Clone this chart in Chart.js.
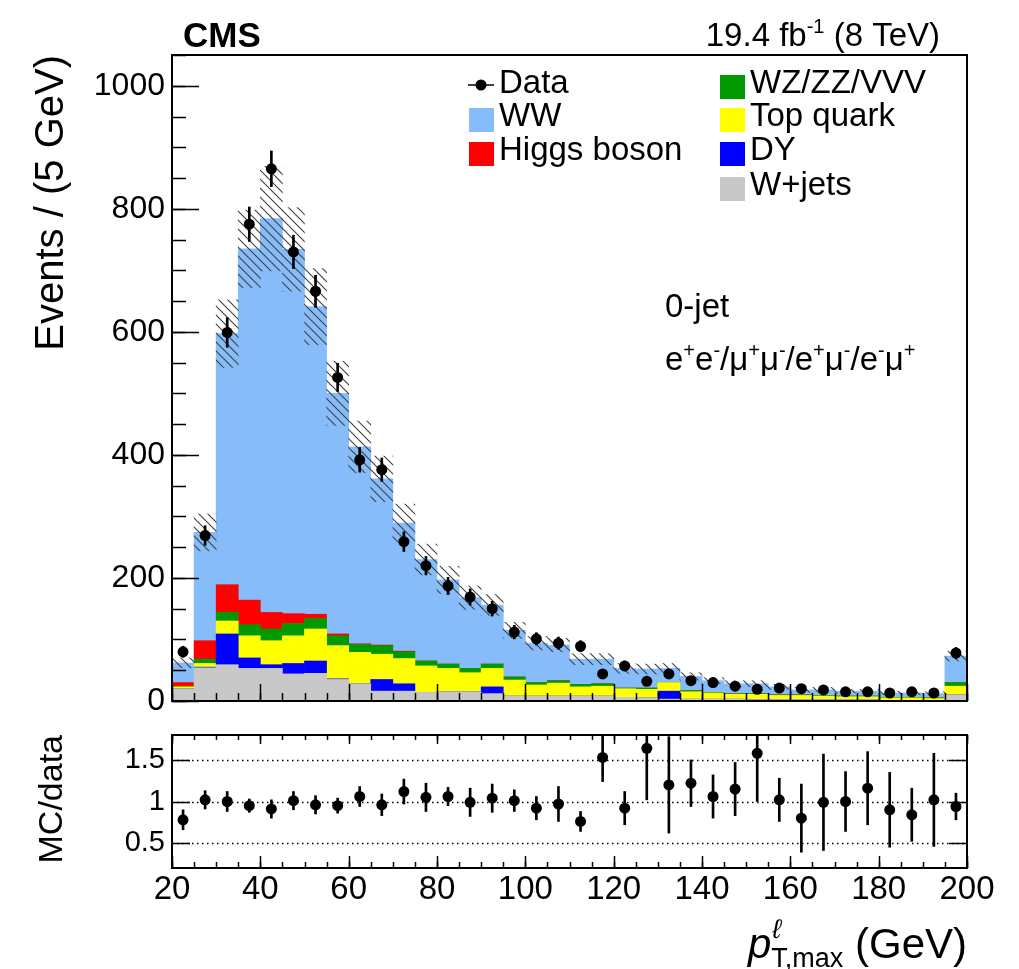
<!DOCTYPE html>
<html>
<head>
<meta charset="utf-8">
<script src="https://cdn.jsdelivr.net/npm/chart.js@4.4.0/dist/chart.umd.min.js"></script>
<style>
  html, body { margin: 0; padding: 0; background: #fff; }
  #wrap { position: relative; width: 1019px; height: 969px; }
  #main { position: absolute; left: 0; top: 0; }
  #ratio { position: absolute; left: 0; top: 712px; }
</style>
</head>
<body>
<div id="wrap">
  <canvas id="main" width="1019" height="712"></canvas>
  <canvas id="ratio" width="1019" height="257"></canvas>
</div>
<script>
const FONT = "'Liberation Sans', Arial, sans-serif";

// bin centres (5 GeV bins from 20 to 200)
const binCenters = [22.5, 27.5, 32.5, 37.5, 42.5, 47.5, 52.5, 57.5, 62.5, 67.5, 72.5, 77.5,
  82.5, 87.5, 92.5, 97.5, 102.5, 107.5, 112.5, 117.5, 122.5, 127.5, 132.5, 137.5,
  142.5, 147.5, 152.5, 157.5, 162.5, 167.5, 172.5, 177.5, 182.5, 187.5, 192.5, 197.5];

// observed events and stat. errors
const dataEvents = [80, 269, 599, 775, 865, 730, 666, 526, 392, 376, 259, 220, 187, 169, 150, 112, 101, 94,
  89, 44, 57, 32, 44, 33, 30, 24, 19, 21, 20, 18, 15, 15, 13, 15, 13, 78];
const dataErr = [9, 16, 24, 28, 29, 27, 26, 23, 20, 19, 16, 15, 14, 13, 12, 11, 10, 10,
  9, 7, 8, 6, 7, 6, 5, 5, 4, 5, 4, 4, 4, 4, 4, 4, 4, 9];

// simulated processes (stacked bottom -> top)
const wjets = [20, 54, 59, 53, 53, 44, 45, 35, 28, 16, 16, 14, 15, 15, 12, 8, 8, 8,
  8, 8, 6, 5, 3, 3, 3, 3, 2, 2, 2, 2, 2, 2, 1, 1, 1, 10];
const dy = [0, 1, 50, 17, 6, 17, 20, 1, 0, 19, 12, 0, 0, 0, 11, 0, 0, 0,
  0, 0, 0, 0, 13, 0, 0, 0, 0, 0, 0, 0, 0, 0, 0, 0, 0, 0];
const topQuark = [3, 6, 21, 36, 39, 45, 52, 54, 51, 41, 41, 43, 38, 31, 30, 26, 18, 21,
  15, 16, 14, 14, 14, 12, 10, 8, 9, 7, 7, 6, 5, 5, 4, 4, 3, 14];
const vvv = [1, 7, 14, 18, 19, 20, 17, 16, 13, 14, 11, 8, 7, 7, 7, 5, 4, 4,
  4, 4, 1, 2, 0, 2, 1, 1, 1, 1, 1, 1, 1, 1, 1, 1, 1, 6];
const higgs = [6, 30, 45, 40, 27, 16, 7, 3, 1, 1, 1, 0, 0, 0, 0, 0, 0, 0,
  0, 0, 0, 0, 0, 0, 0, 0, 0, 0, 0, 0, 0, 0, 0, 0, 0, 0];
const ww = [32, 176, 408, 571, 640, 592, 500, 391, 320, 270, 208, 165, 137, 115, 96, 76, 64, 58,
  41, 40, 32, 31, 23, 23, 19, 16, 16, 13, 8, 9, 8, 8, 7, 7, 7, 43];
// total background uncertainty (hatched band, +-)
const mcUnc = [8, 30, 55, 63, 85, 68, 62, 52, 42, 37, 31, 25, 22, 19, 17, 13, 11, 11,
  9, 9, 8, 8, 8, 6, 5, 5, 5, 4, 4, 4, 3, 3, 3, 3, 3, 8];

// ratio panel
const ratioVals = [0.78, 1.02, 1.00, 0.95, 0.91, 1.01, 0.96, 0.95, 1.06, 0.96, 1.12, 1.05,
  1.06, 0.99, 1.04, 1.01, 0.92, 0.97, 0.76, 1.53, 0.92, 1.64, 1.20, 1.22,
  1.06, 1.15, 1.58, 1.02, 0.80, 0.99, 1.00, 1.16, 0.90, 0.84, 1.02, 0.94];
const ratioErr = [0.12, 0.11, 0.12, 0.08, 0.11, 0.11, 0.11, 0.09, 0.12, 0.13, 0.15, 0.17,
  0.11, 0.17, 0.17, 0.13, 0.14, 0.21, 0.12, 0.29, 0.20, 0.62, 0.58, 0.28,
  0.26, 0.32, 0.58, 0.26, 0.41, 0.58, 0.36, 0.44, 0.45, 0.32, 0.56, 0.16];

// tick labels
const xTicks = [20, 40, 60, 80, 100, 120, 140, 160, 180, 200];
const yTicks = [0, 200, 400, 600, 800, 1000];
const ratioTicks = [0.5, 1, 1.5];

const components = [
  { label: 'W+jets', values: wjets, color: '#c8c8c8' },
  { label: 'DY', values: dy, color: '#0000ff' },
  { label: 'Top quark', values: topQuark, color: '#ffff00' },
  { label: 'WZ/ZZ/VVV', values: vvv, color: '#009a00' },
  { label: 'Higgs boson', values: higgs, color: '#ff0000' },
  { label: 'WW', values: ww, color: '#87bcfa' }
];
const colorOf = {};
components.forEach(c => { colorOf[c.label] = c.color; });

Chart.defaults.font.family = FONT;
Chart.defaults.color = '#000';

// build the stack as floating bars
let base = binCenters.map(() => 0);
const stackSets = components.map((c, k) => {
  const lo = base.slice();
  base = base.map((b, i) => b + c.values[i]);
  return {
    type: 'bar',
    label: c.label,
    data: binCenters.map((x, i) => ({ x: x, y: [lo[i], base[i]] })),
    backgroundColor: c.color,
    borderWidth: 0,
    barPercentage: 1,
    categoryPercentage: 1,
    grouped: false,
    order: 10 + k
  };
});
const mcTotal = base;

function hatchPattern() {
  const s = 9;
  const c = document.createElement('canvas');
  c.width = s; c.height = s;
  const g = c.getContext('2d');
  g.strokeStyle = '#404040';
  g.lineWidth = 1.1;
  g.beginPath();
  g.moveTo(0, 0); g.lineTo(s, s);
  g.moveTo(-2, s - 2); g.lineTo(2, s + 2);
  g.moveTo(s - 2, -2); g.lineTo(s + 2, 2);
  g.stroke();
  return g.createPattern(c, 'repeat');
}

function tickLine(ctx, scale, values, len, side, a) {
  ctx.beginPath();
  values.forEach(v => {
    const p = Math.round(scale.getPixelForValue(v)) + 0.5;
    if (side === 'bottom') { ctx.moveTo(p, a.bottom); ctx.lineTo(p, a.bottom - len); }
    if (side === 'top') { ctx.moveTo(p, a.top); ctx.lineTo(p, a.top + len); }
    if (side === 'left') { ctx.moveTo(a.left, p); ctx.lineTo(a.left + len, p); }
    if (side === 'right') { ctx.moveTo(a.right, p); ctx.lineTo(a.right - len, p); }
  });
  ctx.stroke();
}

function steps(from, to, step) {
  const out = [];
  for (let v = from; v <= to + 1e-9; v += step) out.push(v);
  return out;
}

// draw text with super/subscripts: parts = [[text, 'sup'|'sub'|'']]
function richText(ctx, parts, x, y, size, align) {
  const fontFor = p => (p[1] ? Math.round(size * 0.62) : size) + 'px ' + FONT;
  let w = 0;
  parts.forEach(p => { ctx.font = fontFor(p); w += ctx.measureText(p[0]).width; });
  let cx = align === 'right' ? x - w : x;
  ctx.textAlign = 'left';
  parts.forEach(p => {
    ctx.font = fontFor(p);
    const dy = p[1] === 'sup' ? -size * 0.4 : (p[1] === 'sub' ? size * 0.25 : 0);
    ctx.fillText(p[0], cx, y + dy);
    cx += ctx.measureText(p[0]).width;
  });
}

// keep the plot frame where we put it, whatever the label sizes
function fixY(width) {
  return s => { s.width = width; s.paddingTop = 0; s.paddingBottom = 0; };
}

const mainDecor = {
  id: 'mainDecor',
  afterDraw(chart) {
    const ctx = chart.ctx;
    const a = chart.chartArea;
    const xs = chart.scales.x, ys = chart.scales.y;
    ctx.save();
    ctx.strokeStyle = '#000';
    ctx.lineWidth = 1.5;
    tickLine(ctx, xs, steps(20, 200, 5), 8, 'bottom', a);
    tickLine(ctx, xs, xTicks, 17, 'bottom', a);
    tickLine(ctx, ys, steps(0, 1050, 50), 14, 'left', a);
    tickLine(ctx, ys, yTicks, 27, 'left', a);
    ctx.lineWidth = 2;
    ctx.strokeRect(a.left, a.top, a.right - a.left, a.bottom - a.top);

    ctx.fillStyle = '#000';
    ctx.textBaseline = 'alphabetic';
    // header
    ctx.font = 'bold 35px ' + FONT;
    ctx.textAlign = 'left';
    ctx.fillText('CMS', 183, 47);
    richText(ctx, [['19.4 fb', ''], ['-1', 'sup'], [' (8 TeV)', '']], 940, 46, 33, 'right');

    // y title
    ctx.save();
    ctx.translate(63, 55);
    ctx.rotate(-Math.PI / 2);
    ctx.font = '40px ' + FONT;
    ctx.textAlign = 'right';
    ctx.fillText('Events / (5 GeV)', 0, 0);
    ctx.restore();

    // category labels
    ctx.font = '33px ' + FONT;
    ctx.textAlign = 'left';
    ctx.fillText('0-jet', 665, 317);
    richText(ctx, [['e', ''], ['+', 'sup'], ['e', ''], ['-', 'sup'], ['/\u03bc', ''], ['+', 'sup'],
      ['\u03bc', ''], ['-', 'sup'], ['/e', ''], ['+', 'sup'], ['\u03bc', ''], ['-', 'sup'],
      ['/e', ''], ['-', 'sup'], ['\u03bc', ''], ['+', 'sup']], 665, 370, 33, 'left');

    // legend
    ctx.font = '33px ' + FONT;
    ctx.textAlign = 'left';
    ctx.lineWidth = 1.5;
    ctx.beginPath(); ctx.moveTo(468, 85); ctx.lineTo(494, 85); ctx.stroke();
    ctx.beginPath(); ctx.arc(481, 85, 5.5, 0, 2 * Math.PI); ctx.fill();
    ctx.fillText('Data', 499, 93);
    const rows = [[469, 499, 126, 'WW'], [469, 499, 160, 'Higgs boson'],
      [720, 750, 93, 'WZ/ZZ/VVV'], [720, 750, 126, 'Top quark'],
      [720, 750, 160, 'DY'], [720, 750, 195, 'W+jets']];
    rows.forEach(r => {
      ctx.fillStyle = colorOf[r[3]];
      ctx.fillRect(r[0], r[2] - 18, 25, 24);
      ctx.fillStyle = '#000';
      ctx.fillText(r[3], r[1], r[2]);
    });
    ctx.restore();
  }
};

new Chart(document.getElementById('main'), {
  type: 'bar',
  data: {
    datasets: [
      {
        type: 'scatter',
        label: 'Data',
        data: binCenters.map((x, i) => ({ x: x, y: dataEvents[i] })),
        pointRadius: 5.5,
        pointBackgroundColor: '#000',
        pointBorderWidth: 0,
        order: 0
      },
      {
        type: 'bar',
        label: 'Data error',
        data: binCenters.map((x, i) => ({ x: x, y: [dataEvents[i] - dataErr[i], dataEvents[i] + dataErr[i]] })),
        backgroundColor: '#000',
        borderWidth: 0,
        barThickness: 2,
        grouped: false,
        order: 1
      },
      {
        type: 'bar',
        label: 'Bkg. unc.',
        data: binCenters.map((x, i) => ({ x: x, y: [mcTotal[i] - mcUnc[i], mcTotal[i] + mcUnc[i]] })),
        backgroundColor: hatchPattern(),
        borderWidth: 0,
        barPercentage: 1,
        categoryPercentage: 1,
        grouped: false,
        order: 2
      },
      ...stackSets
    ]
  },
  options: {
    responsive: false,
    animation: false,
    devicePixelRatio: 1,
    layout: { padding: { left: 0, right: 52, top: 55, bottom: 11 } },
    plugins: { legend: { display: false }, tooltip: { enabled: false } },
    scales: {
      x: { type: 'linear', min: 20, max: 200, offset: false, display: false },
      y: {
        min: 0, max: 1050,
        afterBuildTicks: s => { s.ticks = yTicks.map(v => ({ value: v })); },
        afterFit: fixY(172),
        grid: { display: false, drawTicks: false },
        border: { display: false },
        ticks: { font: { size: 32 }, padding: 7, callback: v => String(v) }
      }
    }
  },
  plugins: [mainDecor]
});

const ratioDecor = {
  id: 'ratioDecor',
  beforeDatasetsDraw(chart) {
    const ctx = chart.ctx;
    const a = chart.chartArea;
    ctx.save();
    ctx.strokeStyle = '#000';
    ctx.lineWidth = 1.5;
    ctx.setLineDash([1.5, 3.5]);
    ratioTicks.forEach(v => {
      const p = Math.round(chart.scales.y.getPixelForValue(v)) + 0.5;
      ctx.beginPath(); ctx.moveTo(a.left, p); ctx.lineTo(a.right, p); ctx.stroke();
    });
    ctx.restore();
  },
  afterDraw(chart) {
    const ctx = chart.ctx;
    const a = chart.chartArea;
    const xs = chart.scales.x, ys = chart.scales.y;
    ctx.save();
    ctx.strokeStyle = '#000';
    ctx.lineWidth = 1.5;
    tickLine(ctx, xs, steps(20, 200, 5), 5, 'top', a);
    tickLine(ctx, xs, xTicks, 9, 'top', a);
    tickLine(ctx, xs, steps(20, 200, 5), 6, 'bottom', a);
    tickLine(ctx, xs, xTicks, 12, 'bottom', a);
    tickLine(ctx, ys, ratioTicks, 18, 'left', a);
    tickLine(ctx, ys, ratioTicks, 18, 'right', a);
    ctx.lineWidth = 2;
    ctx.strokeRect(a.left, a.top, a.right - a.left, a.bottom - a.top);

    ctx.fillStyle = '#000';
    ctx.textBaseline = 'alphabetic';
    // y title
    ctx.save();
    ctx.translate(62, a.top);
    ctx.rotate(-Math.PI / 2);
    ctx.font = '34px ' + FONT;
    ctx.textAlign = 'right';
    ctx.fillText('MC/data', 0, 0);
    ctx.restore();

    // x title: p_{T,max}^{l} (GeV)
    const y = 246;
    ctx.font = 'italic 42px ' + FONT;
    const wP = ctx.measureText('p').width;
    ctx.font = 'italic 27px ' + FONT;
    const wL = ctx.measureText('\u2113').width;
    ctx.font = '27px ' + FONT;
    const wS = ctx.measureText('T,max').width;
    ctx.font = '42px ' + FONT;
    const wG = ctx.measureText(' (GeV)').width;
    let x = a.right - (wP + Math.max(wL, wS) + wG);
    ctx.textAlign = 'left';
    ctx.font = 'italic 42px ' + FONT;
    ctx.fillText('p', x, y);
    x += wP;
    ctx.font = 'italic 27px ' + FONT;
    ctx.fillText('\u2113', x + 1, y - 20);
    ctx.font = '27px ' + FONT;
    ctx.fillText('T,max', x, y + 9);
    x += Math.max(wL, wS);
    ctx.font = '42px ' + FONT;
    ctx.fillText(' (GeV)', x, y);
    ctx.restore();
  }
};

new Chart(document.getElementById('ratio'), {
  type: 'bar',
  data: {
    datasets: [
      {
        type: 'scatter',
        label: 'MC/data',
        data: binCenters.map((x, i) => ({ x: x, y: ratioVals[i] })),
        pointRadius: 5.5,
        pointBackgroundColor: '#000',
        pointBorderWidth: 0,
        order: 0
      },
      {
        type: 'bar',
        label: 'MC/data error',
        data: binCenters.map((x, i) => ({ x: x, y: [ratioVals[i] - ratioErr[i], ratioVals[i] + ratioErr[i]] })),
        backgroundColor: '#000',
        borderWidth: 0,
        barThickness: 2,
        grouped: false,
        order: 1
      }
    ]
  },
  options: {
    responsive: false,
    animation: false,
    devicePixelRatio: 1,
    layout: { padding: { left: 0, right: 52, top: 23, bottom: 0 } },
    plugins: { legend: { display: false }, tooltip: { enabled: false } },
    scales: {
      x: {
        type: 'linear', min: 20, max: 200, offset: false,
        afterBuildTicks: s => { s.ticks = xTicks.map(v => ({ value: v })); },
        afterFit: s => { s.height = 101; },
        grid: { display: false, drawTicks: false },
        border: { display: false },
        ticks: { font: { size: 33 }, padding: 2, maxRotation: 0, autoSkip: false, callback: v => String(v) }
      },
      y: {
        min: 0.2, max: 1.8,
        afterBuildTicks: s => { s.ticks = ratioTicks.map(v => ({ value: v })); },
        afterFit: fixY(172),
        grid: { display: false, drawTicks: false },
        border: { display: false },
        ticks: { font: { size: 29 }, padding: 7, callback: v => String(v) }
      }
    }
  },
  plugins: [ratioDecor]
});
</script>
</body>
</html>
